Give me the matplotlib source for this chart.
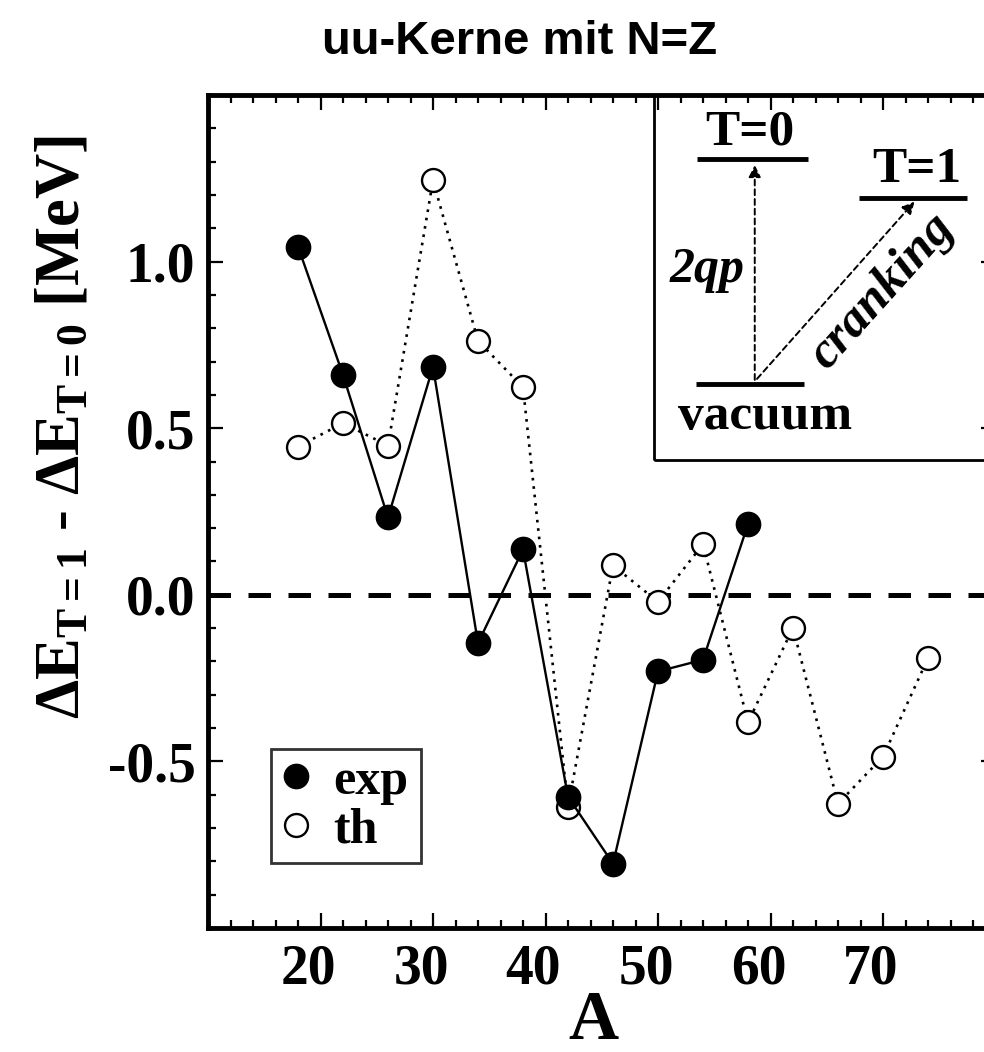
import matplotlib
matplotlib.use("Agg")
import matplotlib.pyplot as plt
from matplotlib.lines import Line2D
from matplotlib.patches import Rectangle
from matplotlib.ticker import MultipleLocator
import matplotlib.transforms as mtransforms

# odd-odd N=Z nuclei
A_exp = [18, 22, 26, 30, 34, 38, 42, 46, 50, 54, 58]
dE_exp = [1.045, 0.66, 0.232, 0.684, -0.145, 0.136, -0.606, -0.807, -0.23, -0.195, 0.212]

A_th = [18, 22, 26, 30, 34, 38, 42, 46, 50, 54, 58, 62, 66, 70, 74]
dE_th = [0.445, 0.515, 0.448, 1.244, 0.762, 0.623, -0.636, 0.088, -0.021, 0.152,
         -0.383, -0.099, -0.627, -0.486, -0.19]

xticks = [20, 30, 40, 50, 60, 70]
yticks = [-0.5, 0.0, 0.5, 1.0]

plt.rcParams['font.family'] = ['Liberation Serif', 'DejaVu Serif']
plt.rcParams['font.weight'] = 'bold'
plt.rcParams['axes.labelweight'] = 'bold'
plt.rcParams['axes.unicode_minus'] = False
plt.rcParams['mathtext.fontset'] = 'custom'
plt.rcParams['mathtext.rm'] = 'Liberation Serif:bold'
plt.rcParams['mathtext.it'] = 'Liberation Serif:bold:italic'
plt.rcParams['mathtext.bf'] = 'Liberation Serif:bold'

fig = plt.figure(figsize=(9.84, 10.52), dpi=100)
ax = fig.add_axes([208 / 984, 1 - 928 / 1052, 787.5 / 984, 833 / 1052])

ax.axhline(0, color='black', lw=3.6, dashes=(4.5, 3.5), zorder=1)

ax.plot(A_th, dE_th, color='black', lw=1.9, linestyle=(0, (1, 2.2)),
        marker='o', markersize=16.5, markerfacecolor='white',
        markeredgecolor='black', markeredgewidth=1.7, zorder=2)
ax.plot(A_exp, dE_exp, color='black', lw=1.7, marker='o', markersize=17.5,
        markerfacecolor='black', markeredgecolor='black', zorder=3)

ax.set_xlim(10, 80)
ax.set_ylim(-1.0, 1.5)
ax.set_xticks(xticks)
ax.set_yticks(yticks)
ax.set_yticklabels(['-0.5', '0.0', '0.5', '1.0'])
ax.xaxis.set_minor_locator(MultipleLocator(2))
ax.yaxis.set_minor_locator(MultipleLocator(0.1))
ax.tick_params(which='both', direction='in', top=True, right=True, width=1.6)
ax.tick_params(which='major', length=11, labelsize=40)
ax.tick_params(which='minor', length=6)
ax.tick_params(axis='x', pad=11)
ax.tick_params(axis='y', pad=9)
for s in ax.spines.values():
    s.set_linewidth(3.5)

shift = mtransforms.ScaledTranslation(-12 / 100, 0, fig.dpi_scale_trans)
for lab in ax.get_xticklabels():
    lab.set_transform(lab.get_transform() + shift)

ax.set_xlabel('A', fontsize=50)
ax.xaxis.set_label_coords(0.49, -0.074)
ax.set_ylabel(r'$\Delta\mathrm{E}_{\mathrm{T{=}1}}$ - $\Delta\mathrm{E}_{\mathrm{T{=}0}}$ [MeV]',
              fontsize=45)
ax.yaxis.set_label_coords(-0.146, 0.601)

# inset scheme
ax.add_patch(Rectangle((49.6, 0.404), 40, 1.3, fill=False, lw=2, edgecolor='black',
                       zorder=4))
ax.plot([53.44, 63.3], [1.308, 1.308], color='black', lw=3.5, solid_capstyle='butt')
ax.plot([67.9, 77.5], [1.19, 1.19], color='black', lw=3.5, solid_capstyle='butt')
ax.plot([53.4, 63.0], [0.632, 0.632], color='black', lw=3.5, solid_capstyle='butt')
ax.annotate('', xy=(58.6, 1.29), xytext=(58.6, 0.645),
            arrowprops=dict(arrowstyle='-|>', linestyle=(0, (3, 2)), lw=1.4,
                            color='black', mutation_scale=18, shrinkA=0, shrinkB=0))
ax.annotate('', xy=(72.8, 1.18), xytext=(58.8, 0.648),
            arrowprops=dict(arrowstyle='-|>', linestyle=(0, (3, 2)), lw=1.4,
                            color='black', mutation_scale=18, shrinkA=0, shrinkB=0))
ax.text(58.2, 1.386, 'T=0', fontsize=37, ha='center', va='center')
ax.text(73.0, 1.276, 'T=1', fontsize=37, ha='center', va='center')
ax.text(51.8, 0.533, 'vacuum', fontsize=37, ha='left', va='center')
ax.text(57.7, 0.975, '2qp', fontsize=36, ha='right', va='center', style='italic')
ax.text(69.9, 0.91, 'cranking', fontsize=37, ha='center', va='center',
        style='italic', rotation=48, rotation_mode='anchor')

handles = [Line2D([], [], ls='none', marker='o', markersize=17.5, color='black'),
           Line2D([], [], ls='none', marker='o', markersize=16.5, markerfacecolor='white',
                  markeredgecolor='black', markeredgewidth=1.7)]
leg = ax.legend(handles, ['exp', 'th'], loc='lower left',
                bbox_to_anchor=(0.0796, 0.0777, 0.1914, 0.1288), mode='expand',
                fontsize=36, frameon=True, fancybox=False, handlelength=0.6,
                handletextpad=0.45, borderpad=0.2, labelspacing=0.05,
                borderaxespad=0)
leg.get_frame().set_edgecolor('black')
leg.get_frame().set_linewidth(2)

fig.text(520 / 984, 1 - 42 / 1052, 'uu-Kerne mit N=Z', fontsize=34,
         family='Liberation Sans', weight='bold', ha='center', va='center')

fig.savefig('out.png', dpi=100)
